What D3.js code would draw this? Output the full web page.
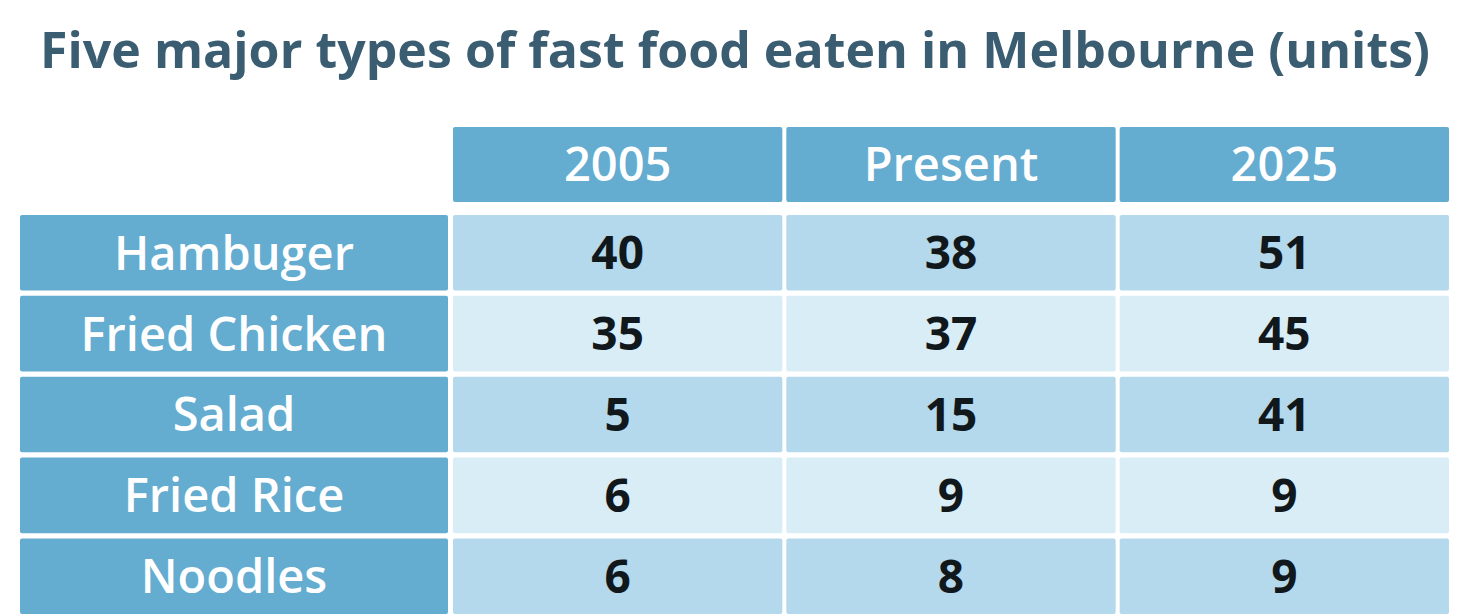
<!DOCTYPE html>
<html>
<head>
<meta charset="utf-8">
<script src="https://cdn.jsdelivr.net/npm/d3@7"></script>
<style>
  body { margin: 0; background: #fff; }
  text { font-family: "Open Sans", sans-serif; }
</style>
</head>
<body>
<script>
// table content
const title = "Five major types of fast food eaten in Melbourne (units)";
const columns = ["2005", "Present", "2025"];
const foods = ["Hambuger", "Fried Chicken", "Salad", "Fried Rice", "Noodles"];
const values2005 = [40, 35, 5, 6, 6];
const valuesPresent = [38, 37, 15, 9, 8];
const values2025 = [51, 45, 41, 9, 9];

const series = [values2005, valuesPresent, values2025];
const cells = [];
foods.forEach((f, i) => {
  columns.forEach((c, j) => cells.push({ food: f, col: c, value: series[j][i], row: i }));
});

const width = 1470, height = 616;
const svg = d3.select("body").append("svg")
  .attr("width", width)
  .attr("height", height);

// layout
const x = d3.scaleBand().domain(columns).range([453, 1449]).paddingInner(0.012);
const y = d3.scaleBand().domain(foods).range([215, 614]).paddingInner(0.065);
const labelX0 = 20, labelX1 = 448;
const headY0 = 127, headY1 = 202;

const headFill = "#64acd0";
const rowFill = ["#b4d9ec", "#d9edf7"];

svg.append("text")
  .attr("x", 40)
  .attr("y", 68)
  .attr("textLength", 1390)
  .attr("lengthAdjust", "spacing")
  .style("font-size", "50px")
  .style("font-weight", 700)
  .style("fill", "#3b5d72")
  .text(title);

// header row
const head = svg.append("g").selectAll("g")
  .data(columns)
  .enter().append("g");

head.append("rect")
  .attr("x", d => x(d))
  .attr("y", headY0)
  .attr("width", x.bandwidth())
  .attr("height", headY1 - headY0)
  .attr("rx", 2)
  .style("fill", headFill);

head.append("text")
  .attr("x", d => x(d) + x.bandwidth() / 2)
  .attr("y", (headY0 + headY1) / 2)
  .attr("dy", "0.36em")
  .attr("text-anchor", "middle")
  .style("font-size", "47px")
  .style("font-weight", 600)
  .style("fill", "#fff")
  .text(d => d);

// row labels
const labels = svg.append("g").selectAll("g")
  .data(foods)
  .enter().append("g");

labels.append("rect")
  .attr("x", labelX0)
  .attr("y", d => y(d))
  .attr("width", labelX1 - labelX0)
  .attr("height", y.bandwidth())
  .attr("rx", 2)
  .style("fill", headFill);

labels.append("text")
  .attr("x", (labelX0 + labelX1) / 2)
  .attr("y", d => y(d) + y.bandwidth() / 2)
  .attr("dy", "0.36em")
  .attr("text-anchor", "middle")
  .style("font-size", "47px")
  .style("font-weight", 600)
  .style("fill", "#fff")
  .text(d => d);

// value cells
const cell = svg.append("g").selectAll("g")
  .data(cells)
  .enter().append("g");

cell.append("rect")
  .attr("x", d => x(d.col))
  .attr("y", d => y(d.food))
  .attr("width", x.bandwidth())
  .attr("height", y.bandwidth())
  .attr("rx", 2)
  .style("fill", d => rowFill[d.row % 2]);

cell.append("text")
  .attr("x", d => x(d.col) + x.bandwidth() / 2)
  .attr("y", d => y(d.food) + y.bandwidth() / 2)
  .attr("dy", "0.36em")
  .attr("text-anchor", "middle")
  .style("font-size", "46px")
  .style("font-weight", 700)
  .style("fill", "#11181c")
  .text(d => d.value);
</script>
</body>
</html>
